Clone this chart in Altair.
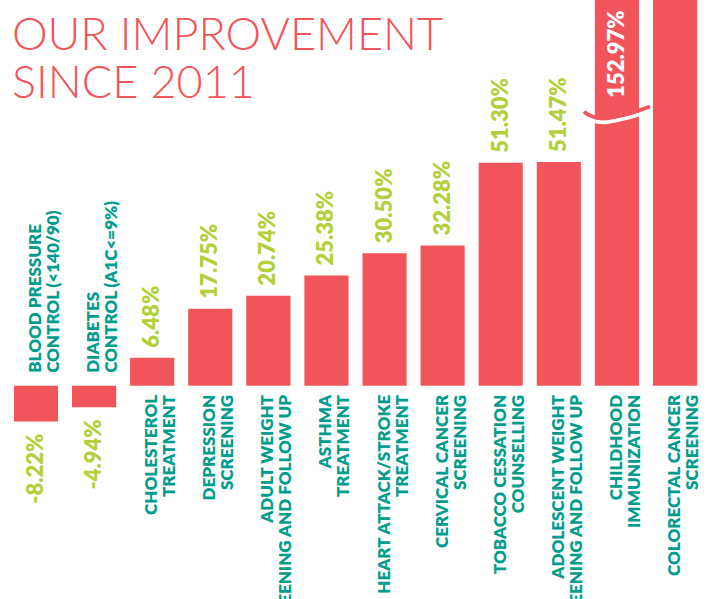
import altair as alt
import pandas as pd

# ---- data ----
categories = [
    "BLOOD PRESSURE\nCONTROL (<140/90)",
    "DIABETES\nCONTROL (A1C<=9%)",
    "CHOLESTEROL\nTREATMENT",
    "DEPRESSION\nSCREENING",
    "ADULT WEIGHT\nSCREENING AND FOLLOW UP",
    "ASTHMA\nTREATMENT",
    "HEART ATTACK/STROKE\nTREATMENT",
    "CERVICAL CANCER\nSCREENING",
    "TOBACCO CESSATION\nCOUNSELLING",
    "ADOLESCENT WEIGHT\nSCREENING AND FOLLOW UP",
    "CHILDHOOD\nIMMUNIZATION",
    "COLORECTAL CANCER\nSCREENING",
]
values = [-8.22, -4.94, 6.48, 17.75, 20.74, 25.38, 30.50, 32.28, 51.30, 51.47, 152.97, 200.0]
value_labels = ["-8.22%", "-4.94%", "6.48%", "17.75%", "20.74%", "25.38%", "30.50%",
                "32.28%", "51.30%", "51.47%", "152.97%", ""]
label_kind = ["neg", "neg", "pos", "pos", "pos", "pos", "pos", "pos", "pos", "pos", "break", "off"]

break_category = ["CHILDHOOD\nIMMUNIZATION"]
break_at = [63.0]

title_lines = ["OUR IMPROVEMENT\nSINCE 2011"]

RED = "#F1555A"
GREEN = "#B4CF3C"
TEAL = "#009C8C"

df = pd.DataFrame({"cat": categories, "value": values, "label": value_labels, "kind": label_kind})
brk = pd.DataFrame({"cat": break_category, "at": break_at})
ttl = pd.DataFrame({"t": title_lines})

x_enc = alt.X("cat:N", sort=categories,
              scale=alt.Scale(domain=categories, paddingInner=0.24, paddingOuter=0.24),
              axis=None)
y_scale = alt.Scale(domain=[-49, 88.7], nice=False, zero=False)

base = alt.Chart(df)

bars = base.mark_bar(color=RED, clip=True).encode(
    x=x_enc, y=alt.Y("value:Q", scale=y_scale, axis=None)
)

VAL_FONT = dict(font="Lato", fontWeight=800, fontSize=22)
CAT_FONT = dict(font="Lato", fontWeight=800, fontSize=17, lineHeight=18, lineBreak="\n")

val_pos = base.transform_filter(alt.datum.kind == "pos").mark_text(
    angle=270, align="left", baseline="middle", dx=10, color=GREEN, **VAL_FONT
).encode(x=x_enc, y=alt.Y("value:Q", scale=y_scale), text="label:N")

val_neg = base.transform_filter(alt.datum.kind == "neg").mark_text(
    angle=270, align="right", baseline="middle", dx=-12, color=GREEN, **VAL_FONT
).encode(x=x_enc, y=alt.Y("value:Q", scale=y_scale), text="label:N")

brk_chart = alt.Chart(brk)
val_break = base.transform_filter(alt.datum.kind == "break").transform_lookup(
    lookup="cat", from_=alt.LookupData(brk, "cat", ["at"])
).mark_text(
    angle=270, align="left", baseline="middle", dx=14, color="white", **VAL_FONT
).encode(x=x_enc, y=alt.Y("at:Q", scale=y_scale), text="label:N")

cat_pos = base.transform_filter(alt.datum.value >= 0).mark_text(
    angle=270, align="right", baseline="middle", dx=-9, color=TEAL, **CAT_FONT
).encode(x=x_enc, y=alt.datum(0, scale=y_scale), text="cat:N")

cat_neg = base.transform_filter(alt.datum.value < 0).mark_text(
    angle=270, align="left", baseline="middle", dx=13, color=TEAL, **CAT_FONT
).encode(x=x_enc, y=alt.datum(0, scale=y_scale), text="cat:N")

WAVE = "M -1 0 C -0.75 0.2 -0.5 0.22 -0.25 0.18 C 0.15 0.12 0.6 0 1 -0.16"

wave_white = brk_chart.mark_point(
    shape=WAVE, size=4356, filled=False, stroke="white", strokeWidth=4,
    opacity=1, yOffset=4
).encode(x=x_enc, y=alt.Y("at:Q", scale=y_scale))

wave_red = brk_chart.mark_point(
    shape=WAVE, size=4356, filled=False, stroke=RED, strokeWidth=4, opacity=1
).encode(x=x_enc, y=alt.Y("at:Q", scale=y_scale))

title = alt.Chart(ttl).mark_text(
    align="left", baseline="alphabetic", color=RED, font="Lato", fontWeight=300,
    fontSize=45, lineHeight=48, lineBreak="\n"
).encode(x=alt.value(12), y=alt.value(50), text="t:N")

chart = alt.layer(
    bars, wave_white, wave_red, val_pos, val_neg, val_break, cat_pos, cat_neg, title
).properties(
    width=711, height=599, padding=0,
    autosize=alt.AutoSizeParams(type="none"),
).configure_view(stroke=None)

chart.save("out.html", embed_options={"renderer": "svg", "actions": False})
